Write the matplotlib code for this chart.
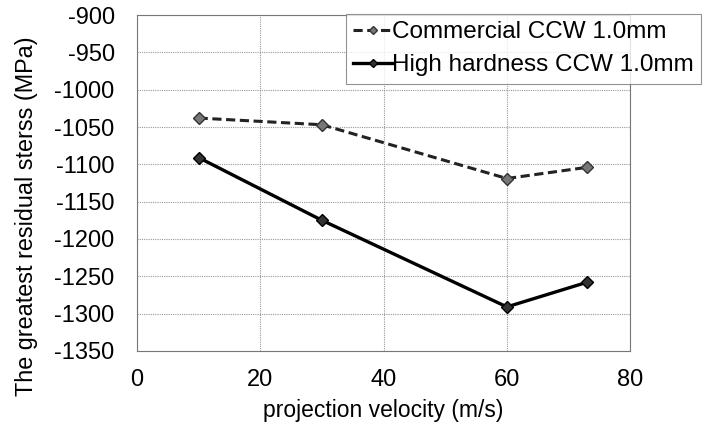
import matplotlib.pyplot as plt

plt.rcParams['font.family'] = ['Liberation Sans', 'DejaVu Sans']
plt.rcParams['axes.unicode_minus'] = False

# data
velocity = [10, 30, 60, 73]
commercial = [-1038, -1047, -1119, -1104]
high_hardness = [-1091, -1175, -1291, -1258]

x_ticks = [0, 20, 40, 60, 80]
y_ticks = [-1350, -1300, -1250, -1200, -1150, -1100, -1050, -1000, -950, -900]

fig = plt.figure(figsize=(7.19, 4.42), dpi=100)
ax = fig.add_axes([0.1905, 0.206, 0.686, 0.760])

ax.plot(velocity, commercial, linestyle=(0, (3, 1.5)), color='#222222', lw=2.2,
        marker='D', markersize=6, markerfacecolor='#777777',
        markeredgecolor='#333333', label='Commercial CCW 1.0mm')
ax.plot(velocity, high_hardness, linestyle='-', color='black', lw=2.4,
        marker='D', markersize=6, markerfacecolor='#333333',
        markeredgecolor='black', label='High hardness CCW 1.0mm')

ax.set_xlim(0, 80)
ax.set_ylim(-1350, -900)
ax.set_xticks(x_ticks)
ax.set_yticks(y_ticks)
ax.grid(True, color='#999999', linestyle=(0, (1, 1)), lw=0.8)
ax.set_axisbelow(True)
for s in ax.spines.values():
    s.set_color('#777777')
    s.set_linewidth(0.8)
ax.tick_params(length=0, labelsize=17)
ax.tick_params(axis='y', pad=16)
ax.tick_params(axis='x', pad=13)

ax.set_xlabel('projection velocity (m/s)', fontsize=16.5, labelpad=6)
ax.set_ylabel('The greatest residual sterss (MPa)', fontsize=16.8)
ax.yaxis.set_label_coords(-0.20, 0.40)

leg = ax.legend(loc='upper right', bbox_to_anchor=(0.975, 0.968),
                bbox_transform=fig.transFigure, fontsize=17.5, frameon=True,
                fancybox=False, handlelength=1.6, handletextpad=0.0,
                borderpad=0.3, labelspacing=0.45, borderaxespad=0,
                markerscale=0.7)
leg.get_frame().set_edgecolor('#777777')
leg.get_frame().set_linewidth(0.8)

fig.savefig('out.png', dpi=100)
